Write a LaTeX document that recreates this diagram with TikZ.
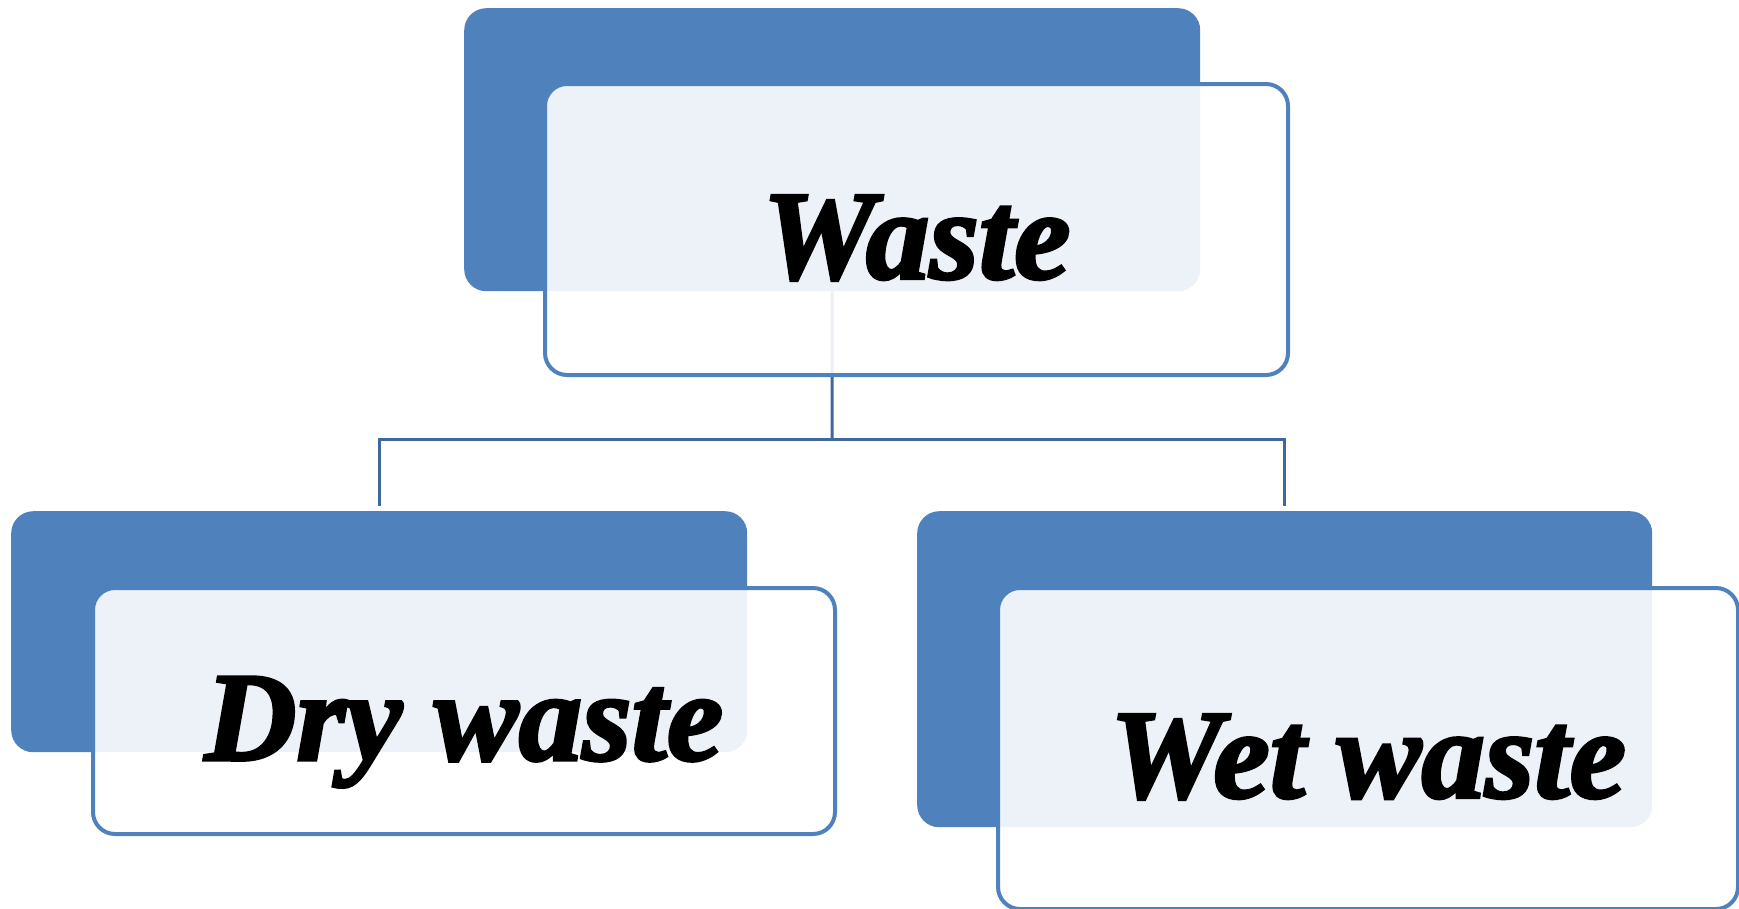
\documentclass[tikz,border=0pt]{standalone}
\usepackage{fontspec}
\newfontfamily\wastefont{Liberation Serif}[BoldItalicFeatures={FakeBold=2.5}]
\definecolor{backblue}{HTML}{4F81BD}
\definecolor{edgeblue}{HTML}{4F81BD}
\definecolor{linkblue}{HTML}{41689B}
\tikzset{
  backbox/.style={rectangle, rounded corners=22pt, fill=backblue, draw=none,
    inner sep=0pt, anchor=north west},
  frontbox/.style={rectangle, rounded corners=22pt, fill=white, fill opacity=0.9,
    draw=edgeblue, line width=4pt, inner sep=0pt, anchor=north west,
    text opacity=1, text=black,
    font=\wastefont\bfseries\itshape\fontsize{127}{135}\selectfont,
    text height=98pt, text depth=0pt},
  link/.style={draw=linkblue, line width=3pt}
}
\begin{document}
\begin{tikzpicture}[x=1pt,y=-1pt]
\useasboundingbox (0,0) rectangle (1739,908);
% back boxes
\node[backbox, minimum width=736pt, minimum height=283pt] (tb) at (464,8) {};
\node[backbox, minimum width=736pt, minimum height=241pt] (lb) at (11,511) {};
\node[backbox, minimum width=735pt, minimum height=316pt] (rb) at (917,511) {};
% connectors
\coordinate (split) at (832,439);
\draw[link] (tb.south) -- (split);
\draw[link, shorten >=5pt] (split) -| (lb.north);
\draw[link, shorten >=5pt] (split) -| (rb.north);
% front boxes
\node[frontbox, minimum width=743pt, minimum height=291pt] (tw) at (543,82) {Waste};
\node[frontbox, minimum width=742pt, minimum height=246pt] (lw) at (91,586) {Dry waste};
\node[frontbox, minimum width=740pt, minimum height=321pt] (rw) at (996,586) {Wet waste};
\end{tikzpicture}
\end{document}
